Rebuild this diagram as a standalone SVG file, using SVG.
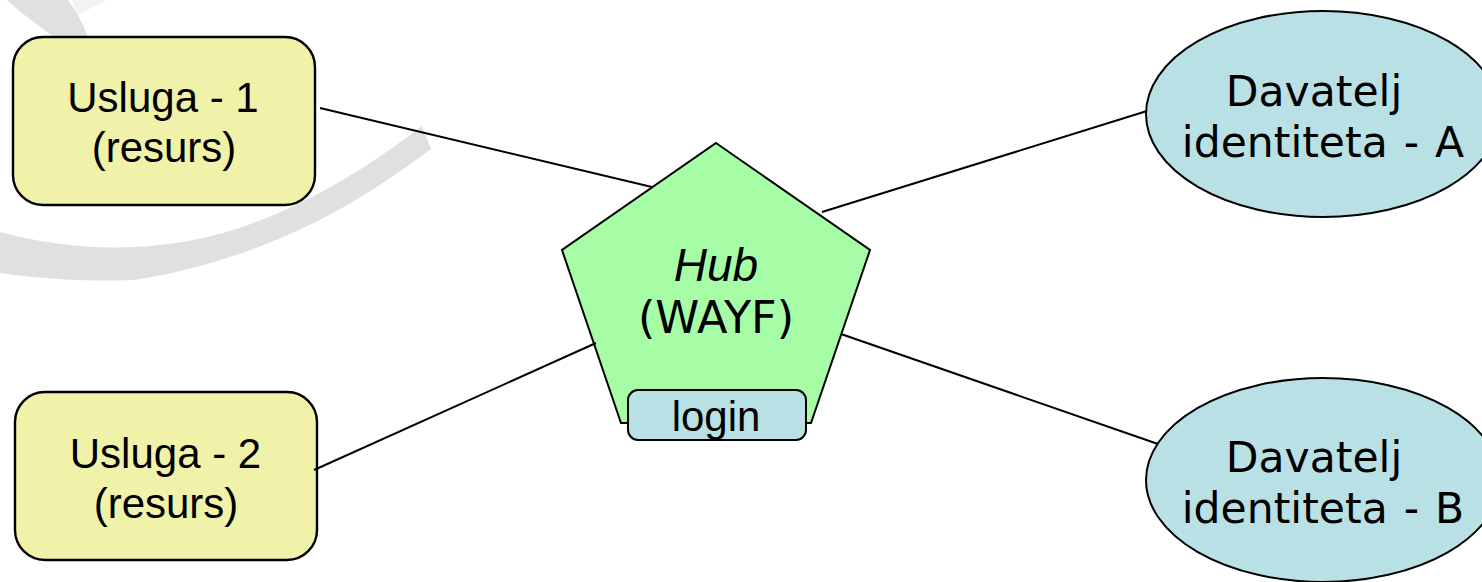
<svg xmlns="http://www.w3.org/2000/svg" width="1482" height="582" viewBox="0 0 1482 582">
<style>
.l{font-family:"Liberation Sans",Arial,sans-serif;font-size:42px;text-anchor:middle;fill:#000}
.d{font-family:"DejaVu Sans",Verdana,sans-serif;font-size:42.5px;text-anchor:middle;fill:#000;word-spacing:2.5px}
.s{stroke:#000;stroke-width:2.4;}
.y{fill:#f1f2a9}
.b{fill:#b9e0e4}
.c{stroke:#000;stroke-width:2;fill:none}
</style>
<g id="swoosh">
<path fill="#f3f3f3" d="M72 0H107L78 15Z"/>
<path fill="#e0e0e0" d="M7 0H68C76 11 83 23 88 37H54C38 25 22 14 7 0Z"/>
<path fill="#e0e0e0" d="M0 232C45 244 90 249 133 247C165 246 200 240 233 230C300 209 365 170 422 126L431 149C400 172 368 194 333 213C270 247 200 270 133 280C88 282 44 279 0 273Z"/>
</g>
<g id="usluga-1">
<rect class="s y" x="13" y="37" width="302" height="168" rx="30"/>
<text class="l" x="163" y="111.500">Usluga - 1</text>
<text class="l" x="164" y="162">(resurs)</text>
</g>
<g id="usluga-2">
<rect class="s y" x="15" y="392" width="302" height="168" rx="30"/>
<text class="l" x="165.500" y="467.500">Usluga - 2</text>
<text class="l" x="166" y="518">(resurs)</text>
</g>
<g id="hub">
<polygon class="s" style="stroke-width:2" fill="#a6fda6" points="716,143 870,250 811,423 621,423 562,250"/>
<text class="l" x="716" y="280.500" style="font-size:46px" font-style="italic">Hub</text>
<text class="d" x="716" y="333" style="font-size:44.5px">(WAYF)</text>
</g>
<g id="login">
<rect class="s b" style="stroke-width:2" x="628" y="390" width="178" height="50" rx="10"/>
<text class="l" x="716" y="431">login</text>
</g>
<g id="davatelj-a">
<ellipse class="s b" style="stroke-width:2" cx="1323" cy="114" rx="177" ry="103"/>
<text class="d" x="1314" y="106">Davatelj</text>
<text class="d" x="1323" y="157">identiteta - A</text>
</g>
<g id="davatelj-b">
<ellipse class="s b" style="stroke-width:2" cx="1323" cy="480" rx="177" ry="102"/>
<text class="d" x="1314" y="472">Davatelj</text>
<text class="d" x="1323" y="523">identiteta - B</text>
</g>
<g id="connectors">
<line class="c" x1="320" y1="108" x2="652" y2="187"/>
<line class="c" x1="314" y1="470" x2="596" y2="343"/>
<line class="c" x1="822" y1="212" x2="1147" y2="111"/>
<line class="c" x1="841" y1="334" x2="1158" y2="444"/>
</g>
</svg>
